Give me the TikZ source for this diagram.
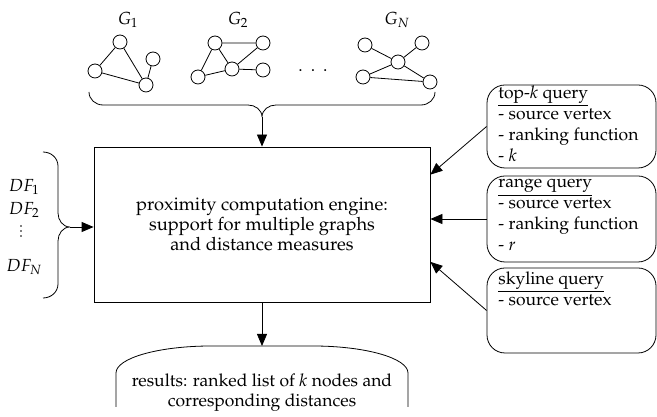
\documentclass[tikz,border=0pt]{standalone}
\usepackage[T1]{fontenc}
\usepackage{mathpazo}
\usetikzlibrary{arrows.meta,calc}
\begin{document}
\begin{tikzpicture}[x=1pt,y=1pt, line width=0.8pt,
  txt/.style={font=\fontsize{17.5}{20}\selectfont},
  gnode/.style={circle, draw, minimum size=14pt, inner sep=0pt},
  qbox/.style={draw, rounded corners=18pt, minimum width=169pt, inner sep=0pt},
  qtext/.style={anchor=north west, align=left, inner sep=0pt, font=\fontsize{17.5}{21}\selectfont},
  arr/.style={-{Triangle[length=12pt,width=10pt]}}]
\useasboundingbox (0,0) rectangle (657,417);

% graph labels
\node[txt] (l1) at (128,397) {$G_1$};
\node[txt] (l2) at (238,397) {$G_2$};
\node[txt] (l3) at (397,397) {$G_N$};

% G1
\node[gnode] (a1) at (120,375) {};
\node[gnode] (b1) at (153,358) {};
\node[gnode] (c1) at (95,346) {};
\node[gnode] (d1) at (146,332) {};
\draw (c1) -- (a1) (a1) -- (d1) (c1) -- (d1) (d1) -- (b1);

% G2
\node[gnode] (a2) at (215,374) {};
\node[gnode] (b2) at (263,374) {};
\node[gnode] (c2) at (198,340) {};
\node[gnode] (d2) at (232,348) {};
\node[gnode] (e2) at (263,347) {};
\draw (a2) -- (b2) (a2) -- (c2) (a2) -- (d2) (c2) -- (d2) (d2) -- (b2) (d2) -- (e2);

% dots
\node[txt, anchor=base] (dots) at (313,345) {.\hspace{8pt}.\hspace{8pt}.};

% GN
\node[gnode] (a3) at (365,372) {};
\node[gnode] (b3) at (363,340) {};
\node[gnode] (c3) at (398,355) {};
\node[gnode] (d3) at (422,374) {};
\node[gnode] (e3) at (430,335) {};
\draw (a3) -- (c3) (b3) -- (c3) (c3) -- (d3) (c3) -- (e3) (b3) -- (e3);

% top brace
\coordinate (btip) at (262,300);
\draw (89,325) to[out=-90,in=180] (103,312) -- (248,312) to[out=0,in=90] (btip)
      (btip) to[out=90,in=180] (276,312) -- (421,312) to[out=0,in=-90] (435,325);

% engine
\node[draw, minimum width=336pt, minimum height=155pt, inner sep=0pt, align=center,
      font=\fontsize{18.3}{20}\selectfont] (engine) at (262,192.5)
  {proximity computation engine:\\support for multiple graphs\\and distance measures};
\draw[arr] (btip) -- (engine.north);

% left brace
\coordinate (ltip) at (70,190);
\draw (43,265) to[out=0,in=90] (58,251) -- (58,204) to[out=-90,in=180] (ltip)
      (ltip) to[out=180,in=90] (58,176) -- (58,133) to[out=-90,in=0] (43,119);
\draw[arr] (ltip) -- (engine.west |- ltip);
\node[txt, inner sep=0pt] (df1) at (24,230) {$DF_1$};
\node[txt, inner sep=0pt] (df2) at (24,207) {$DF_2$};
\foreach \yy in {181,186,191} \fill (21,\yy) circle[radius=0.8pt];
\node[txt, inner sep=0pt] (dfn) at (24,150) {$DF_N$};

% query boxes
\node[qbox, minimum height=83pt] (topk) at (571.5,290.5) {};
\node[qbox, minimum height=86pt] (range) at (571.5,198) {};
\node[qbox, minimum height=85pt] (sky) at (571.5,106.5) {};
\node[qtext] (topkt) at (498,332) {\underline{top-$k$ query}\\- source vertex\\- ranking function\\- $k$};
\node[qtext] (ranget) at (498,238) {\underline{range query}\\- source vertex\\- ranking function\\- $r$};
\node[qtext] (skyt) at (498,146) {\underline{skyline query}\\- source vertex};

\draw[arr] (topk.west) -- ($(engine.north east)!0.18!(engine.south east)$);
\draw[arr] (range.west) -- (engine.east |- range.west);
\draw[arr] (sky.west) -- ($(engine.north east)!0.74!(engine.south east)$);

% results
\coordinate (rtop) at (262,71);
\draw (116,10) -- (116,44) .. controls (116,59) and (159,71) .. (211,71) -- (rtop) -- (313,71)
      .. controls (365,71) and (408,59) .. (408,44) -- (408,10);
\draw[arr] (engine.south) -- (rtop);
\node[txt, align=center] (res) at (262,24) {results: ranked list of $k$ nodes and\\corresponding distances};
\end{tikzpicture}
\end{document}
